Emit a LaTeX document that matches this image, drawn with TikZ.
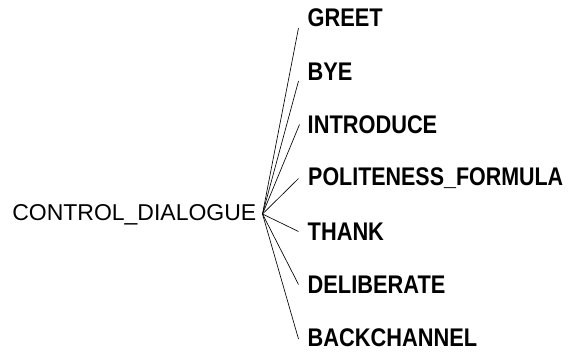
\documentclass[tikz,border=0pt]{standalone}
\usepackage{fontspec}
\setmainfont{Liberation Sans}
\usepackage{graphicx}
\begin{document}
\begin{tikzpicture}[x=1pt,y=-1pt,
  leaf/.style={anchor=west,inner sep=0pt,font=\fontsize{21.8}{24}\selectfont\bfseries},
  rootnode/.style={anchor=east,inner sep=0pt,font=\fontsize{22.9}{26}\selectfont},
  edge/.style={draw=black,line width=0.65pt}]
\useasboundingbox (0,0) rectangle (572,351);
\node[rootnode] (root) at (256.5,215) {\resizebox{244pt}{\height}{CONTROL\_DIALOGUE}};
\node[leaf] (greet) at (307.5,17.5) {\scalebox{1}[1.17]{GREET}};
\node[leaf] (bye) at (307.5,71.5) {\scalebox{1}[1.17]{BYE}};
\node[leaf] (intro) at (307.5,124.5) {\scalebox{1}[1.17]{INTRODUCE}};
\node[leaf] (polite) at (308,178.5) {\resizebox{255pt}{1.17\height}{POLITENESS\_FORMULA}};
\node[leaf] (thank) at (307.5,231.5) {\scalebox{1}[1.17]{THANK}};
\node[leaf] (delib) at (307.5,284.5) {\scalebox{1}[1.17]{DELIBERATE}};
\node[leaf] (back) at (307.5,338) {\scalebox{1}[1.17]{BACKCHANNEL}};
\coordinate (hub) at ([xshift=6pt,yshift=1pt]root.east);
\draw[edge] (hub) -- ([xshift=-9pt,yshift=-10.5pt]greet.west);
\draw[edge] (hub) -- ([xshift=-9pt,yshift=-9.5pt]bye.west);
\draw[edge] (hub) -- ([xshift=-8pt]intro.west);
\draw[edge] (hub) -- ([xshift=-9.5pt]polite.west);
\draw[edge] (hub) -- ([xshift=-9pt]thank.west);
\draw[edge] (hub) -- ([xshift=-9pt]delib.west);
\draw[edge] (hub) -- ([xshift=-9pt,yshift=-1pt]back.west);
\end{tikzpicture}
\end{document}
